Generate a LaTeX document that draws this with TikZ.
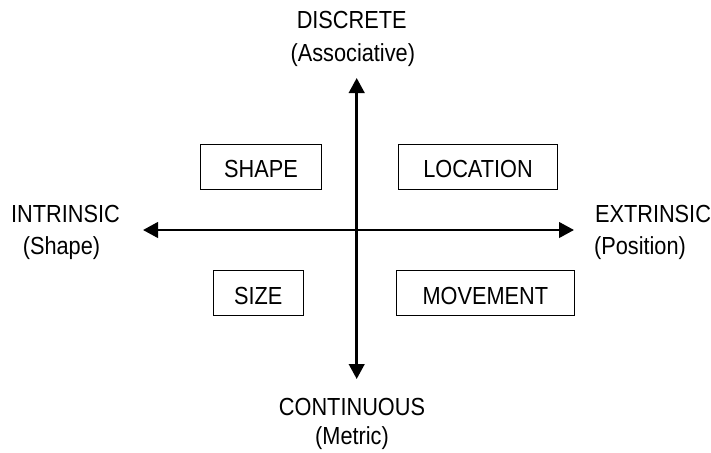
\documentclass[tikz,border=0pt]{standalone}
\usepackage{fontspec}
\setmainfont{Liberation Sans}[FakeStretch=0.88]
\usetikzlibrary{arrows.meta}
\begin{document}
\begin{tikzpicture}[x=1pt,y=-1pt,
  lbl/.style={inner sep=0pt, anchor=base, font=\fontsize{24.7}{30}\selectfont},
  box/.style={draw, line width=1pt, inner sep=0pt, minimum height=45pt,
    text height=22pt, text depth=0pt, font=\fontsize{24.7}{30}\selectfont},
  axis/.style={line width=2.7pt,
    {Triangle[length=15pt,width=15.5pt]}-{Triangle[length=15pt,width=15.5pt]}}]
\useasboundingbox (0,0) rectangle (711,452);
\fill[white] (0,0) rectangle (711,452);
% axis labels
\node[lbl] (discrete) at (351.7,28.3) {DISCRETE};
\node[lbl] (assoc) at (352.8,61) {(Associative)};
\node[lbl] (cont) at (352,415) {CONTINUOUS};
\node[lbl] (metric) at (352,444) {(Metric)};
\node[lbl] (intr) at (65.5,222.7) {INTRINSIC};
\node[lbl] (shapelbl) at (61.5,254) {(Shape)};
\node[lbl] (extr) at (653,222.7) {EXTRINSIC};
\node[lbl] (pos) at (640,254) {(Position)};
% axes
\coordinate (top) at (356.7,78);
\coordinate (bottom) at (356.7,379);
\coordinate (left) at (143,230);
\coordinate (right) at (574,230);
\draw[axis] (left) -- (right);
\draw[axis] (top) -- (bottom);
% boxes
\node[box, minimum width=121pt] (shapebox) at (261,166.5) {SHAPE};
\node[box, minimum width=159pt] (locbox) at (478,166.8) {LOCATION};
\node[box, minimum width=90pt] (sizebox) at (258.3,293.2) {SIZE};
\node[box, minimum width=178pt] (movebox) at (485.4,293.2) {MOVEMENT};
\end{tikzpicture}
\end{document}
